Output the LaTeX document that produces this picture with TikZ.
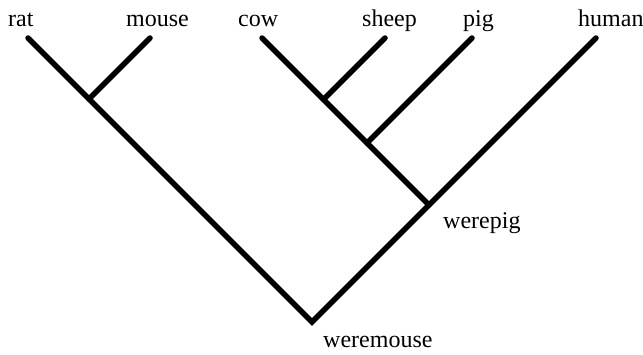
\documentclass[tikz,border=0pt]{standalone}
\usepackage{fontspec}
\setmainfont{Liberation Serif}
\begin{document}
\begin{tikzpicture}[x=1pt,y=-1pt,
  branch/.style={line width=5.5pt,line cap=round,line join=miter},
  taxon/.style={anchor=base west,inner sep=0pt,font=\fontsize{24}{28}\selectfont}]
\useasboundingbox (0,0) rectangle (643,354);
% leaves
\coordinate (rat)   at (28,38);
\coordinate (mouse) at (150,38);
\coordinate (cow)   at (262,38);
\coordinate (sheep) at (385,38);
\coordinate (pig)   at (472,38);
\coordinate (human) at (596,38);
% internal nodes
\coordinate (rm)   at (89,99);
\coordinate (cs)   at (323.5,99.5);
\coordinate (cp)   at (367,143);
\coordinate (wp)   at (429,205);
\coordinate (root) at (312,322);
% branches
\draw[branch] (rat) -- (rm) -- (root) -- (wp) -- (human);
\draw[branch] (mouse) -- (rm);
\draw[branch] (cow) -- (cs) -- (cp) -- (wp);
\draw[branch] (sheep) -- (cs);
\draw[branch] (pig) -- (cp);
% labels
\node[taxon] (lrat)   at (8,26)   {rat};
\node[taxon] (lmouse) at (126,26) {mouse};
\node[taxon] (lcow)   at (238,26) {cow};
\node[taxon] (lsheep) at (362,26) {sheep};
\node[taxon] (lpig)   at (463,26) {pig};
\node[taxon] (lhuman) at (578,26) {human};
\node[taxon] (lwp)    at (443,228) {werepig};
\node[taxon] (lroot)  at (323,347) {weremouse};
\end{tikzpicture}
\end{document}
